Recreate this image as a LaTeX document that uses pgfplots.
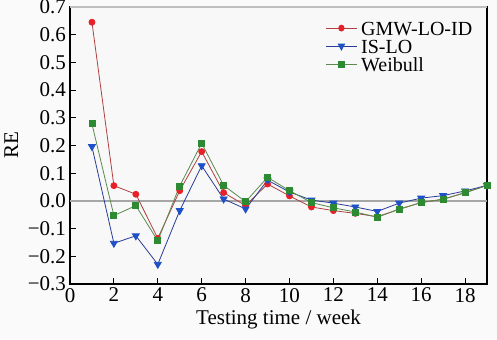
\documentclass[border=0pt]{standalone}
\usepackage{pgfplots}
\pgfplotsset{compat=1.18}
\usepackage{fontspec}
\setmainfont{Liberation Serif}

\definecolor{gmwline}{HTML}{B04040}
\definecolor{gmwmark}{HTML}{E82028}
\definecolor{isline}{HTML}{283C96}
\definecolor{ismark}{HTML}{1E50C8}
\definecolor{wbline}{HTML}{5A8A50}
\definecolor{wbmark}{HTML}{2E8A32}
\definecolor{panel}{HTML}{F8F8F8}

\pgfplotstableread{
t   gmw     is      wb
1   0.645   0.196   0.278
2   0.055  -0.153  -0.053
3   0.024  -0.126  -0.017
4  -0.135  -0.229  -0.144
5   0.037  -0.035   0.054
6   0.178   0.127   0.208
7   0.030   0.007   0.056
8  -0.017  -0.029  -0.003
9   0.061   0.075   0.085
10  0.018   0.032   0.037
11 -0.022   0.003  -0.006
12 -0.035  -0.008  -0.025
13 -0.045  -0.022  -0.040
14 -0.057  -0.038  -0.059
15 -0.030  -0.008  -0.030
16 -0.006   0.010  -0.006
17  0.006   0.019   0.006
18  0.030   0.036   0.029
19  0.056   0.056   0.056
}\retable

\begin{document}
\begin{tikzpicture}
\fill[white!98!black] (-35pt,-27.5pt) rectangle (213.5pt,142pt);
\begin{axis}[
  name=ax,
  scale only axis,
  width=208.5pt, height=138.5pt,
  at={(0,0)}, anchor=south west,
  xmin=0, xmax=19, ymin=-0.3, ymax=0.7,
  xtick={0,2,...,18},
  ytick={-0.3,-0.2,...,0.7},
  yticklabels={−0.3,−0.2,−0.1,0.0,0.1,0.2,0.3,0.4,0.5,0.6,0.7},
  tick align=inside,
  xtick pos=bottom, ytick pos=left,
  major tick length=3pt,
  tick style={black, line width=0.5pt},
  axis line style={black, line width=0.6pt},
  axis background/.style={fill=panel},
  /pgf/number format/assume math mode=true,
  ticklabel style={font=\fontsize{10.5}{11}\selectfont},
  xticklabel style={yshift=1.5pt},
  yticklabel style={xshift=1.5pt},
  xlabel={Testing time / week},
  ylabel={RE},
  label style={font=\fontsize{10.5}{11}\selectfont},
  xlabel style={yshift=3pt},
  ylabel style={yshift=-2pt},
  legend style={draw=none, fill=none, at={(0.98,0.965)}, anchor=north east,
    font=\fontsize{10}{9}\selectfont, row sep=0pt, inner sep=1pt,
    nodes={text height=7.2pt, text depth=0.2pt, inner ysep=0.8pt}},
  legend cell align=left,
  legend image post style={xscale=0.9},
  clip=false,
]
\addplot[gray!70, line width=1pt, forget plot] coordinates {(0,0) (19,0)};
\addplot[gmwline, line width=0.4pt, mark=*, mark size=1.5pt,
  mark options={gmwmark, fill=gmwmark}] table[x=t, y=gmw] {\retable};
\addlegendentry{GMW-LO-ID}
\addplot[isline, line width=0.4pt, mark=triangle*, mark size=2pt,
  mark options={ismark, fill=ismark, rotate=180}] table[x=t, y=is] {\retable};
\addlegendentry{IS-LO}
\addplot[wbline, line width=0.4pt, mark=square*, mark size=1.5pt,
  mark options={wbmark, fill=wbmark}] table[x=t, y=wb] {\retable};
\addlegendentry{Weibull}
\end{axis}
\draw[gray!50, line width=0.6pt] (ax.north west) -- (ax.north east);
\pgfresetboundingbox
\path (-35pt,-27.5pt) rectangle (213.5pt,142pt);
\end{tikzpicture}
\end{document}
